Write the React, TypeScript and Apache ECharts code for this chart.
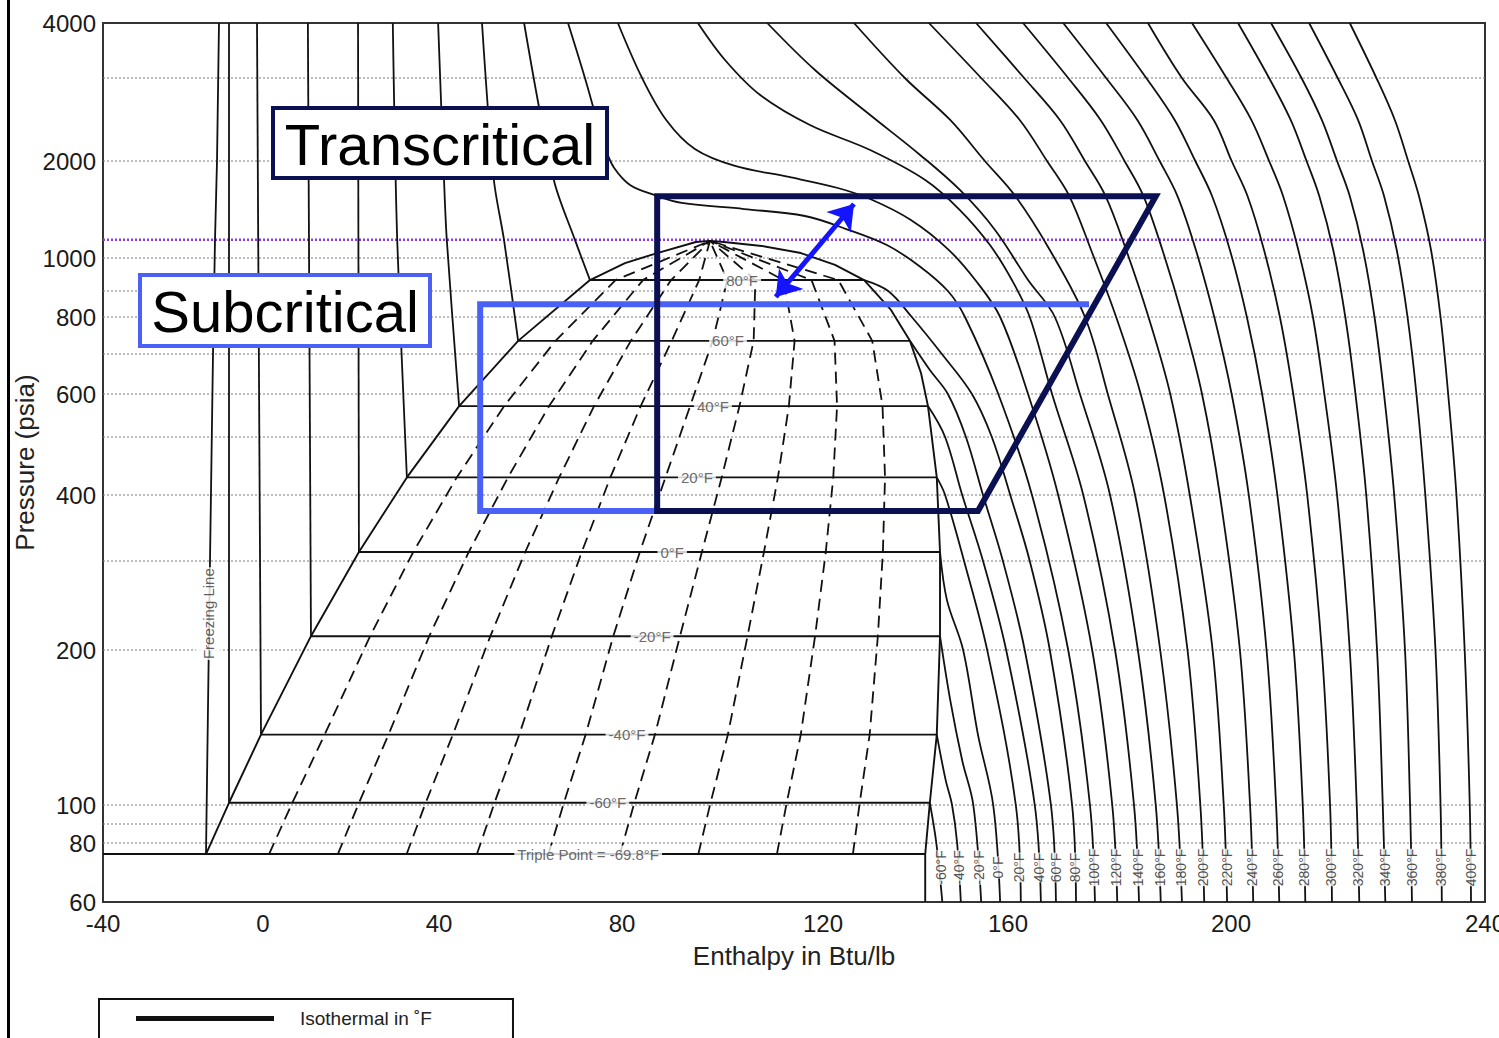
import React, { useEffect, useRef } from "react";
import * as echarts from "echarts";

// ---------- axis ticks / scale anchors ----------
const H_TICKS = [-40, 0, 40, 80, 120, 160, 200, 240];
const P_TICK_LABELS = [60, 80, 100, 200, 400, 600, 800, 1000, 2000, 4000];
const P_GRID = [60, 80, 90, 100, 200, 300, 400, 500, 600, 700, 800, 900, 1000, 2000, 3000, 4000];
const P_CRITICAL = 1140;

// ---------- saturation dome ----------
const DOME = [
  [-14.25, 75.8], [-8.5, 101], [-0.5, 137], [10.9, 213], [21.8, 312], [32.7, 428], [44.4, 570],
  [57.3, 734], [73.0, 932], [80.6, 984], [87.0, 1036], [94.7, 1121], [97.5, 1130],
  [100.3, 1121], [107.8, 1090], [115.6, 1036], [122.6, 978], [128.9, 932], [134.7, 826],
  [138.8, 734], [141.2, 650], [142.7, 570], [144.6, 428], [145.3, 312], [145.3, 213],
  [144.6, 137], [143.1, 101], [142.1, 75.8], [142.1, 60],
];
const SAT_NAMES = ["Triple Point = -69.8°F", "-60°F", "-40°F", "-20°F", "0°F", "20°F", "40°F", "60°F", "80°F"];
const SAT_P = [75.8, 101, 137, 213, 312, 428, 570, 734, 932];
const SAT_HL = [-14.25, -8.5, -0.5, 10.9, 21.8, 32.7, 44.4, 57.3, 73.0];
const SAT_HV = [142.1, 143.1, 144.6, 145.3, 145.3, 144.6, 142.7, 138.8, 128.9];
const SAT_LABEL_H = [72.6, 76.9, 81.0, 86.0, 90.0, 94.9, 98.1, 101.1, 103.9];
const CRIT_POINT = [97.5, 1130];
const QUALITY = [0.1, 0.2, 0.3, 0.4, 0.5, 0.6, 0.7, 0.8, 0.9];

const FREEZING = [[-14.25, 75.8], [-13.25, 300], [-12.5, 700], [-12, 1140], [-11.5, 2000], [-11, 4000]];
const FREEZING_LABEL = [-13.7, 236];

// ---------- liquid-side isotherms ----------
const LIQ_M60 = [[-8.5, 101], [-8.5, 4000]];
const LIQ_M40 = [[-0.5, 137], [-1.5, 4000]];
const LIQ_M20 = [[10.9, 213], [10.2, 4000]];
const LIQ_0 = [[21.8, 312], [21.6, 4000]];
const LIQ_20 = [[32.7, 428], [30.5, 1140], [29.5, 4000]];
const LIQ_40 = [[44.4, 570], [41.7, 1140], [41.1, 1746], [39.8, 4000]];
const LIQ_60 = [[57.3, 734], [54.2, 1140], [52.0, 1746], [49.4, 4000]];
const LIQ_80 = [[73.0, 932], [69.7, 1140], [65.1, 1746], [58.6, 4000]];

// ---------- vapour-side isotherms ----------
const VAP_M60 = [[143.1, 101], [144.5, 80], [145.8, 60]];
const VAP_M40 = [[144.6, 137], [146.5, 112], [147.9, 100], [149.0, 80], [149.8, 60]];
const VAP_M20 = [[145.3, 213], [147.5, 160], [150.1, 122], [152.5, 100], [154.2, 60]];
const VAP_0 = [[145.3, 312], [146.8, 251], [150.3, 200], [153.5, 137], [156.8, 100], [158.3, 60]];
const VAP_20 = [[144.6, 428], [146.4, 400], [150.5, 300], [155.5, 200], [161.4, 100], [162.3, 60]];
const VAP_40 = [[142.7, 570], [146.4, 500], [150.1, 400], [154.6, 300], [159.6, 200], [164.8, 100], [165.9, 60]];
const VAP_60 = [[138.8, 734], [143.1, 658], [147.0, 600], [150.9, 500], [154.6, 400], [158.9, 300], [163.0, 200], [167.7, 100], [168.6, 60]];
const VAP_80 = [[128.9, 932], [134.1, 900], [139.2, 800], [145.7, 700], [152.2, 600], [156.5, 500], [160.4, 400], [163.9, 300], [167.5, 200], [171.5, 100], [172.2, 60]];

// ---------- supercritical isotherms ----------
const SUP_100 = [[68.2, 4000], [71.9, 3000], [74.5, 2444], [76.5, 2110], [78.3, 1902], [81.6, 1685], [86.4, 1569], [91.9, 1482], [104.3, 1419], [116.4, 1350], [125.0, 1230], [133.8, 1097], [140.8, 975], [147.0, 900], [150.7, 800], [157.9, 600], [164.3, 400], [170.8, 200], [174.7, 100], [175.6, 60]];
const SUP_120 = [[79.1, 4000], [84.0, 3000], [88.8, 2444], [94.5, 2121], [102.5, 1930], [113.2, 1784], [123.2, 1649], [130.2, 1524], [139.0, 1312], [147.0, 1066], [153.1, 929], [158.3, 800], [163.6, 600], [169.0, 400], [175.1, 200], [178.7, 100], [179.6, 60]];
const SUP_140 = [[95.1, 4000], [100.5, 3296], [107.5, 2760], [117.4, 2384], [130.2, 2110], [142.1, 1746], [149.6, 1409], [156.1, 1097], [160.7, 932], [163.9, 800], [167.9, 600], [173.5, 400], [179.2, 200], [182.6, 100], [183.5, 60]];
const SUP_160 = [[108.9, 4000], [118.4, 3128], [130.2, 2504], [141.0, 2060], [149.6, 1626], [157.2, 1222], [163.6, 932], [168.4, 800], [172.9, 600], [178.3, 400], [183.3, 200], [186.5, 100], [187.4, 60]];
const SUP_180 = [[126.7, 4000], [137.7, 3000], [147.5, 2444], [155.0, 2000], [161.3, 1557], [167.5, 1059], [173.8, 800], [177.9, 600], [182.8, 400], [187.3, 200], [190.3, 100], [191.2, 60]];
const SUP_200 = [[142.9, 4000], [154.2, 3000], [162.1, 2444], [167.0, 2000], [171.0, 1557], [174.9, 1059], [179.4, 800], [183.8, 600], [188.0, 400], [192.2, 200], [194.5, 100], [195.2, 60]];
const SUP_220 = [[153.1, 4000], [162.9, 3000], [169.3, 2444], [173.8, 2000], [177.5, 1557], [181.2, 1059], [185.2, 800], [189.1, 600], [192.6, 400], [196.7, 200], [198.7, 100], [199.3, 60]];
const SUP_240 = [[162.7, 4000], [170.8, 3000], [176.6, 2444], [180.9, 2000], [184.3, 1557], [187.7, 1059], [191.3, 800], [194.8, 600], [198.0, 400], [201.4, 200], [203.0, 100], [203.5, 60]];
const SUP_260 = [[169.9, 4000], [177.6, 3000], [183.2, 2444], [187.2, 2000], [190.4, 1557], [193.7, 1059], [197.0, 800], [200.1, 600], [202.8, 400], [205.6, 200], [207.1, 100], [207.6, 60]];
const SUP_280 = [[177.6, 4000], [184.8, 3000], [189.9, 2444], [193.6, 2000], [196.6, 1557], [199.8, 1059], [202.5, 800], [204.9, 600], [207.3, 400], [209.9, 200], [211.3, 100], [211.7, 60]];
const SUP_300 = [[185.1, 4000], [191.2, 3000], [196.9, 2444], [200.1, 2000], [202.6, 1557], [205.2, 1059], [207.7, 800], [209.8, 600], [212.0, 400], [214.3, 200], [215.6, 100], [215.9, 60]];
const SUP_320 = [[193.0, 4000], [199.2, 3000], [203.2, 2444], [206.0, 2000], [208.2, 1557], [210.6, 1059], [212.9, 800], [214.7, 600], [216.7, 400], [218.7, 200], [219.8, 100], [220.2, 60]];
const SUP_340 = [[201.1, 4000], [206.0, 3000], [209.4, 2444], [211.9, 2000], [213.9, 1557], [216.1, 1059], [218.0, 800], [219.6, 600], [221.3, 400], [223.0, 200], [223.9, 100], [224.3, 60]];
const SUP_360 = [[206.3, 4000], [211.1, 3000], [214.3, 2444], [216.7, 2000], [218.7, 1557], [220.8, 1059], [222.6, 800], [224.1, 600], [225.7, 400], [227.4, 200], [228.2, 100], [228.5, 60]];
const SUP_380 = [[212.3, 4000], [216.8, 3000], [220.0, 2444], [222.2, 2000], [224.1, 1557], [226.1, 1059], [227.8, 800], [229.2, 600], [230.6, 400], [232.2, 200], [233.0, 100], [233.2, 60]];
const SUP_400 = [[218.7, 4000], [222.9, 3000], [225.8, 2444], [227.9, 2000], [229.6, 1557], [231.5, 1059], [233.0, 800], [234.2, 600], [235.5, 400], [236.8, 200], [237.6, 100], [237.8, 60]];

const ISO_NAMES = ["-60°F", "-40°F", "-20°F", "0°F", "20°F", "40°F", "60°F", "80°F", "100°F", "120°F", "140°F", "160°F", "180°F", "200°F", "220°F", "240°F", "260°F", "280°F", "300°F", "320°F", "340°F", "360°F", "380°F", "400°F"];
const ISO_LABEL_H = [145.5, 149.4, 153.7, 157.8, 162.0, 165.6, 168.6, 172.0, 175.4, 179.4, 183.3, 187.3, 191.0, 195.0, 199.3, 203.3, 207.4, 211.5, 215.7, 220.0, 224.3, 228.5, 233.1, 237.8];
const ISO_LABEL_P = 71;

// ---------- refrigeration cycles ----------
const TRANS_CYCLE = [[87.0, 1555], [186.5, 1555], [153.5, 373], [87.0, 373], [87.0, 1555]];
const SUB_CYCLE = [[174.0, 848], [49.0, 848], [49.0, 373], [87.0, 373]];
const ARROW = [[110.6, 876], [126.7, 1471]];

// ---------- axis layout (uneven scale of the original chart, px along axis) ----------
const H_AXIS_POS = [0, 160, 336, 519, 720, 905, 1128, 1382];
const P_AXIS_POS = [0, 59, 78, 97, 252, 341, 407, 465, 508, 548, 585, 611, 644, 741, 824, 879];

function warpX(h: number): number {
  let i = 0;
  while (i < H_TICKS.length - 2 && h > H_TICKS[i + 1]) i++;
  return H_AXIS_POS[i] + ((h - H_TICKS[i]) / (H_TICKS[i + 1] - H_TICKS[i])) * (H_AXIS_POS[i + 1] - H_AXIS_POS[i]);
}
function warpY(p: number): number {
  let i = 0;
  while (i < P_GRID.length - 2 && p > P_GRID[i + 1]) i++;
  const f = Math.log(p / P_GRID[i]) / Math.log(P_GRID[i + 1] / P_GRID[i]);
  return P_AXIS_POS[i] + f * (P_AXIS_POS[i + 1] - P_AXIS_POS[i]);
}
const pt = (d: number[]) => [warpX(d[0]), warpY(d[1])];

const FONT = "Liberation Sans, Arial, Helvetica, sans-serif";
const INK = "#111";
const ISO_SERIES_NAME = "Isothermal in ˚F";

function line(name: string, data: number[][], style: any, extra: any = {}) {
  return {
    type: "line",
    name,
    data: data.map(pt),
    showSymbol: false,
    symbol: "none",
    silent: true,
    lineStyle: style,
    itemStyle: { color: style.color },
    z: 3,
    ...extra,
  };
}

function buildOption() {
  const series: any[] = [];
  P_GRID.slice(1, -1).forEach((p) =>
    series.push(line("grid" + p, [[-40, p], [240, p]], { color: "#7a7a7a", width: 1, type: [2, 2] }, { z: 1 }))
  );
  series.push(line("critical", [[-40, P_CRITICAL], [240, P_CRITICAL]], { color: "#8a3df0", width: 2.5, type: [2, 2] }, { z: 1 }));
  series.push(line("dome", DOME, { color: INK, width: 1.9 }));
  series.push(line("triple", [[-40, SAT_P[0]], [SAT_HV[0], SAT_P[0]]], { color: INK, width: 1.9 }));
  for (let i = 1; i < SAT_P.length; i++) {
    series.push(line("sat" + i, [[SAT_HL[i], SAT_P[i]], [SAT_HV[i], SAT_P[i]]], { color: INK, width: 1.9 }));
  }
  // constant-quality lines, derived from the saturation values
  QUALITY.forEach((q) => {
    const d = SAT_P.map((p, i) => [SAT_HL[i] + q * (SAT_HV[i] - SAT_HL[i]), p]);
    d.push(CRIT_POINT);
    series.push(line("q" + q, d, { color: INK, width: 1.8, type: [12, 7] }));
  });
  series.push(line("freezing", FREEZING, { color: INK, width: 1.8 }));
  [LIQ_M60, LIQ_M40, LIQ_M20, LIQ_0, LIQ_20, LIQ_40, LIQ_60, LIQ_80].forEach((d) =>
    series.push(line(ISO_SERIES_NAME, d, { color: INK, width: 1.8 }, { smooth: 0.3 }))
  );
  [VAP_M60, VAP_M40, VAP_M20, VAP_0, VAP_20, VAP_40, VAP_60, VAP_80,
   SUP_100, SUP_120, SUP_140, SUP_160, SUP_180, SUP_200, SUP_220, SUP_240,
   SUP_260, SUP_280, SUP_300, SUP_320, SUP_340, SUP_360, SUP_380, SUP_400].forEach((d) =>
    series.push(line(ISO_SERIES_NAME, d, { color: INK, width: 1.8 }, { smooth: 0.35 }))
  );
  const labelBase = { show: true, position: "inside", formatter: "{b}", backgroundColor: "#fff", fontFamily: FONT };
  series.push({
    type: "scatter", name: "satLabels", silent: true, z: 5, symbol: "circle", symbolSize: 0.01,
    itemStyle: { color: "transparent" },
    data: SAT_NAMES.map((n, i) => ({ name: n, value: pt([SAT_LABEL_H[i], SAT_P[i]]) })),
    label: { ...labelBase, fontSize: 15, color: "#444", padding: [1, 3] },
  });
  series.push({
    type: "scatter", name: "isoLabels", silent: true, z: 5, symbol: "circle", symbolSize: 0.01,
    itemStyle: { color: "transparent" },
    data: ISO_NAMES.map((n, i) => ({ name: n, value: pt([ISO_LABEL_H[i], ISO_LABEL_P]) })),
    label: { ...labelBase, fontSize: 14, color: "#222", rotate: 90, padding: [2, 0] },
  });
  series.push({
    type: "scatter", name: "freezeLabel", silent: true, z: 5, symbol: "circle", symbolSize: 0.01,
    itemStyle: { color: "transparent" },
    data: [{ name: "Freezing Line", value: pt(FREEZING_LABEL) }],
    label: { ...labelBase, fontSize: 15, color: "#333", rotate: 90, padding: [5, 1] },
  });
  series.push(line("subcritical", SUB_CYCLE, { color: "#4b60f5", width: 6, join: "miter", cap: "square" }, { z: 6 }));
  series.push(line("transcritical", TRANS_CYCLE, { color: "#0b1052", width: 6, join: "miter", cap: "square" }, { z: 7 }));
  series.push({
    type: "lines", coordinateSystem: "cartesian2d", silent: true, z: 8,
    symbol: ["arrow", "arrow"], symbolSize: 24,
    lineStyle: { color: "#1414ff", width: 5, opacity: 1, curveness: 0 },
    data: [{ coords: ARROW.map(pt) }],
  });

  const xLabelMap = new Map(H_TICKS.map((h) => [Math.round(warpX(h)), String(h)]));
  const yLabelMap = new Map(P_TICK_LABELS.map((p) => [Math.round(warpY(p)), String(p)]));

  return {
    animation: false,
    textStyle: { fontFamily: FONT },
    grid: {
      left: 103, top: 23, width: 1382, height: 879, show: true,
      borderColor: "#333", borderWidth: 2, backgroundColor: "transparent",
      containLabel: false, outerBoundsMode: "none",
    },
    legend: {
      show: true, left: 99, top: 999, selectedMode: false,
      data: [{ name: ISO_SERIES_NAME, icon: "rect" }],
      itemWidth: 138, itemHeight: 5,
      padding: [10, 81, 22, 37],
      borderColor: "#111", borderWidth: 2, backgroundColor: "#fff",
      textStyle: { fontSize: 19, color: "#222", fontFamily: FONT, padding: [0, 0, 0, 21] },
    },
    xAxis: {
      type: "value", min: 0, max: 1382,
      name: "Enthalpy in Btu/lb", nameLocation: "middle", nameGap: 41, nameMoveOverlap: false,
      nameTextStyle: { fontSize: 26, color: "#222", fontFamily: FONT },
      axisLine: { show: false }, axisTick: { show: false }, splitLine: { show: false },
      axisLabel: {
        customValues: H_TICKS.map(warpX),
        formatter: (v: number) => xLabelMap.get(Math.round(v)) ?? "",
        fontSize: 24, color: "#1a1a1a", margin: 9, fontFamily: FONT,
      },
    },
    yAxis: {
      type: "value", min: 0, max: 879,
      name: "Pressure (psia)", nameLocation: "middle", nameGap: 65, nameMoveOverlap: false,
      nameTextStyle: { fontSize: 26, color: "#222", fontFamily: FONT },
      axisLine: { show: false }, axisTick: { show: false }, splitLine: { show: false },
      axisLabel: {
        customValues: P_TICK_LABELS.map(warpY),
        formatter: (v: number) => yLabelMap.get(Math.round(v)) ?? "",
        fontSize: 24, color: "#1a1a1a", margin: 7, fontFamily: FONT,
      },
    },
    graphic: [
      { type: "rect", z: 100, shape: { x: 7, y: 0, width: 3, height: 1038 }, style: { fill: "#000" } },
      { type: "rect", z: 100, shape: { x: 273, y: 108, width: 334, height: 70 }, style: { fill: "#fff", stroke: "#0b1052", lineWidth: 4 } },
      { type: "text", z: 101, x: 440, y: 144, style: { text: "Transcritical", fontSize: 58, fontFamily: FONT, fill: "#000", align: "center", verticalAlign: "middle" } },
      { type: "rect", z: 100, shape: { x: 140, y: 275, width: 290, height: 71 }, style: { fill: "#fff", stroke: "#4b60f5", lineWidth: 4 } },
      { type: "text", z: 101, x: 285, y: 311, style: { text: "Subcritical", fontSize: 58, fontFamily: FONT, fill: "#000", align: "center", verticalAlign: "middle" } },
    ],
    series,
  };
}

export default function App() {
  const ref = useRef<HTMLDivElement>(null);
  useEffect(() => {
    if (!ref.current) return;
    const chart = echarts.init(ref.current, undefined, { renderer: "svg" });
    chart.setOption(buildOption() as any);
    return () => chart.dispose();
  }, []);
  return <div ref={ref} style={{ position: "absolute", left: 0, top: 0, width: 1499, height: 1038, background: "#fff" }} />;
}
